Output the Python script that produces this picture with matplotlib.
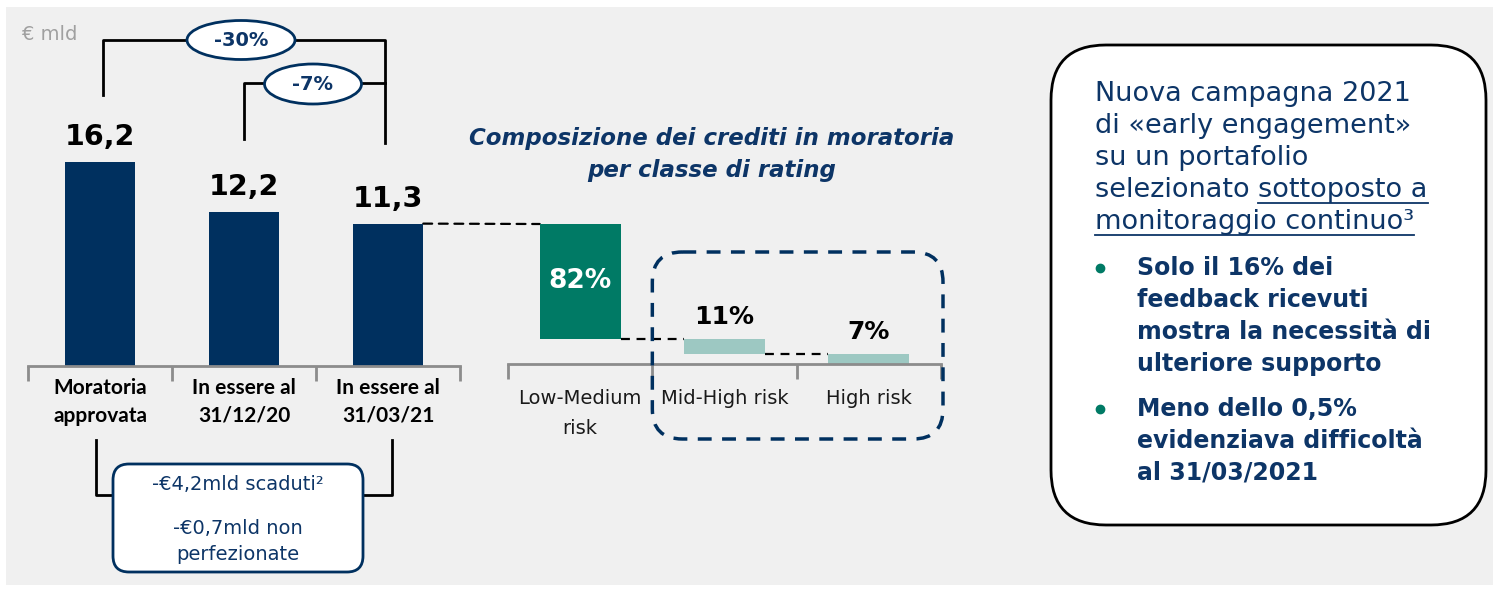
import matplotlib

matplotlib.use("Agg")
import matplotlib.pyplot as plt
from matplotlib.patches import ConnectionPatch, Ellipse, FancyBboxPatch, Rectangle

W, H = 1499, 592

# left chart: stock of moratoria (EUR bn)
stock_labels = ["Moratoria\napprovata", "In essere al\n31/12/20", "In essere al\n31/03/21"]
stock_values = [16.2, 12.2, 11.3]
stock_texts = ["16,2", "12,2", "11,3"]
change_labels = ["-30%", "-7%"]
box_lines = ["-€4,2mld scaduti²", "-€0,7mld non", "perfezionate"]

# middle chart: split by rating class (%)
rating_labels = ["Low-Medium\nrisk", "Mid-High risk", "High risk"]
rating_shares = [82, 11, 7]
rating_texts = ["82%", "11%", "7%"]
title = "Composizione dei crediti in moratoria\nper classe di rating"

# right box
intro_lines = [
    ("Nuova campagna 2021", ""),
    ("di «early engagement»", ""),
    ("su un portafolio", ""),
    ("selezionato ", "sottoposto a"),
    ("", "monitoraggio continuo³"),
]
bullets = [
    ["Solo il 16% dei", "feedback ricevuti", "mostra la necessità di", "ulteriore supporto"],
    ["Meno dello 0,5%", "evidenziava difficoltà", "al 31/03/2021"],
]

NAVY = "#00305f"
NAVY_TXT = "#0d3567"
GREEN = "#007a65"
LIGHT = "#9dc8c2"
GRAY = "#8c8c8c"
BG = "#f0f0f0"

fig = plt.figure(figsize=(W / 100, H / 100), dpi=100, facecolor="white")

bg = fig.add_axes([0, 0, 1, 1], zorder=0)
bg.set_xlim(0, W)
bg.set_ylim(H, 0)
bg.axis("off")
bg.add_patch(Rectangle((6, 7), 1487, 578, facecolor=BG, edgecolor="none"))


def frame(left, right, base, top):
    return [left / W, (H - base) / H, (right - left) / W, (base - top) / H]


# ---- left bars
ax_l = fig.add_axes(frame(28, 460, 366, 100), zorder=1)
ax_l.patch.set_visible(False)
xs = list(range(len(stock_values)))
bars_l = ax_l.bar(xs, stock_values, width=0.49, color=NAVY)
ax_l.set_xlim(-0.5, 2.5)
ax_l.set_ylim(0, 266 / 12.6)
for x, v, t in zip(xs, stock_values, stock_texts):
    ax_l.annotate(t, (x, v), xytext=(0, 8), textcoords="offset points", ha="center",
                  va="bottom", fontsize=20.5, fontweight="bold", color="black")

# ---- rating waterfall
ax_r = fig.add_axes(frame(508, 941, 364, 224), zorder=1)
ax_r.patch.set_visible(False)
bottoms = []
acc = 100
for v in rating_shares:
    acc -= v
    bottoms.append(acc)
rx = list(range(len(rating_shares)))
bars_r = ax_r.bar(rx, rating_shares, bottom=bottoms, width=0.56,
                  color=[GREEN, LIGHT, LIGHT])
ax_r.set_xlim(-0.5, 2.5)
ax_r.set_ylim(0, 100)
ax_r.text(0, bottoms[0] + rating_shares[0] / 2, rating_texts[0], ha="center", va="center",
          fontsize=19, fontweight="bold", color="white")
for x in rx[1:]:
    ax_r.annotate(rating_texts[x], (x, bottoms[x] + rating_shares[x]), xytext=(0, 7),
                  textcoords="offset points", ha="center", va="bottom",
                  fontsize=18, fontweight="bold", color="black")

for ax in (ax_l, ax_r):
    for s in ("top", "left", "right"):
        ax.spines[s].set_visible(False)
    ax.spines["bottom"].set_color(GRAY)
    ax.spines["bottom"].set_linewidth(2)
    ax.set_yticks([])
    ax.set_xticks([-0.5, 0.5, 1.5, 2.5], minor=True)
    ax.tick_params(axis="x", which="minor", length=11, width=2, color=GRAY, direction="out")
    ax.tick_params(axis="x", which="major", length=0)

ax_l.set_xticks(xs)
ax_l.set_xticklabels(stock_labels, fontsize=15, fontweight="bold", family="Lato",
                     linespacing=1.45)
ax_l.tick_params(axis="x", which="major", pad=9)
ax_r.set_xticks(rx)
ax_r.set_xticklabels(rating_labels, fontsize=14, color="#1a1a1a", linespacing=1.75)
ax_r.tick_params(axis="x", which="major", pad=18)

# dashed connectors of the waterfall
dash = dict(color="black", linestyle=(0, (4, 3)), linewidth=1.6)
con = ConnectionPatch((xs[-1] + 0.245, stock_values[-1]), (-0.28, 100),
                      coordsA=ax_l.transData, coordsB=ax_r.transData, **dash)
fig.add_artist(con)
for i in range(len(rating_shares) - 1):
    ax_r.plot([i + 0.28, i + 1 - 0.28], [bottoms[i], bottoms[i]], **dash)

# ---- overlay (pixel coords from top-left)
ov = fig.add_axes([0, 0, 1, 1], zorder=3)
ov.set_xlim(0, W)
ov.set_ylim(H, 0)
ov.axis("off")
ov.patch.set_visible(False)


def px(ax, x, y):
    X, Y = ax.transData.transform((x, y))
    return X, H - Y


ov.text(22, 35, "€ mld", fontsize=14, color="#a0a0a0", va="center", ha="left")

# brackets with change ellipses
x0 = px(ax_l, 0, 0)[0]
x1 = px(ax_l, 1, 0)[0]
x2 = px(ax_l, 2, 0)[0]
ov.plot([x0 + 3, x0 + 3, x2 - 3, x2 - 3], [95, 40, 40, 143], color="black", lw=2, zorder=2)
ov.plot([x1, x1, x2 - 3], [139, 83, 83], color="black", lw=2, zorder=2)
for (cx, cy, ew, eh), lab in zip([(241, 40, 108, 39), (313, 84, 97, 40)], change_labels):
    ov.add_patch(Ellipse((cx, cy), ew, eh, facecolor="white", edgecolor=NAVY, lw=2,
                         zorder=3))
    ov.text(cx, cy, lab, ha="center", va="center", fontsize=14, fontweight="bold",
            color=NAVY_TXT, zorder=4)

# lower bracket and box
ov.plot([x0 - 4, x0 - 4, 113], [440, 495, 495], color="black", lw=2, zorder=2)
ov.plot([x2 + 4, x2 + 4, 363], [440, 495, 495], color="black", lw=2, zorder=2)
ov.add_patch(FancyBboxPatch((113, 464), 250, 108, boxstyle="round,pad=0,rounding_size=16",
                            facecolor="white", edgecolor=NAVY, lw=2, zorder=3))
for y, line in zip([484, 528, 555], box_lines):
    ov.text(238, y, line, ha="center", va="center", fontsize=14, color=NAVY_TXT, zorder=4)

# title of the rating chart
ov.text(712, 155, title, ha="center", va="center", fontsize=16.5, fontweight="bold",
        style="italic", color=NAVY_TXT, linespacing=1.5)

# dashed rounded frame on mid-high / high risk
fx0 = px(ax_r, 0.5, 0)[0]
fx1 = px(ax_r, 2.5, 0)[0]
ov.add_patch(FancyBboxPatch((fx0, 252), fx1 - fx0 + 2, 187,
                            boxstyle="round,pad=0,rounding_size=30", facecolor="none",
                            edgecolor=NAVY, lw=2.5, linestyle=(0, (4, 3))))

# right rounded box
ov.add_patch(FancyBboxPatch((1051, 45), 435, 480, boxstyle="round,pad=0,rounding_size=55",
                            facecolor="white", edgecolor="black", lw=2))

renderer = fig.canvas.get_renderer()
y = 94
for plain, under in intro_lines:
    x = 1095
    if plain:
        t = ov.text(x, y, plain, ha="left", va="center", fontsize=19.5, color=NAVY_TXT,
                    zorder=4)
        bb = t.get_window_extent(renderer)
        x = bb.x1
    if under:
        t = ov.text(x, y, under, ha="left", va="center", fontsize=19.5, color=NAVY_TXT,
                    zorder=4)
        bb = t.get_window_extent(renderer)
        ov.plot([bb.x0, bb.x1], [y + 13, y + 13], color=NAVY_TXT, lw=1.3, zorder=4)
    y += 32

y = 268
for lines in bullets:
    ov.plot([1100], [y], marker="o", markersize=6, color=GREEN, zorder=4)
    for line in lines:
        ov.text(1137, y, line, ha="left", va="center", fontsize=17, fontweight="bold",
                color=NAVY_TXT, zorder=4)
        y += 32
    y += 13

fig.savefig("out.png", dpi=100, facecolor="white")
